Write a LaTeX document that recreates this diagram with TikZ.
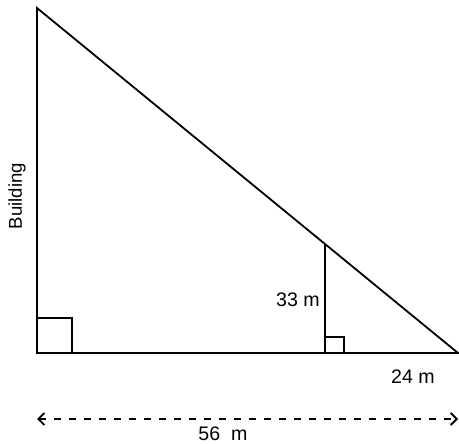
\documentclass[tikz,border=0pt]{standalone}
\usepackage{fontspec}
\setmainfont{Liberation Sans}
\usetikzlibrary{arrows.meta}
\begin{document}
\begin{tikzpicture}[x=1pt,y=-1pt,
  edge/.style={line width=1.8pt,line cap=butt},
  lbl/.style={font=\fontsize{19.6}{21}\selectfont,inner sep=0pt}]
\useasboundingbox (0,0) rectangle (459,444);
\coordinate (A) at (37,8);
\coordinate (B) at (37,353);
\coordinate (C) at (458,353);
\coordinate (D) at (325,244);
\coordinate (E) at (325,353);
\draw[edge,line join=miter] (A) -- (B) -- (C) -- cycle;
\draw[edge] (D) -- (E);
\draw[edge] (37,318) -- (72,318) -- (72,353);
\draw[edge] (325,337) -- (344,337) -- (344,353);
\draw[line width=2.5pt] (325,353) -- (344,353);
\coordinate (L) at (37,419);
\coordinate (R) at (458,419);
\draw[line width=1.8pt,dash pattern=on 7pt off 8pt,{Straight Barb[length=6pt,width=12pt]}-{Straight Barb[length=6pt,width=12pt]}] (L) -- (R);
\node[lbl,font=\fontsize{18.6}{20}\selectfont,rotate=90] (bld) at (17,196) {Building};
\node[lbl] (h) at (298,300) {33 m};
\node[lbl] (d) at (413,377) {24 m};
\node[lbl] (w) at (223,434) {56\ \ m};
\end{tikzpicture}
\end{document}
